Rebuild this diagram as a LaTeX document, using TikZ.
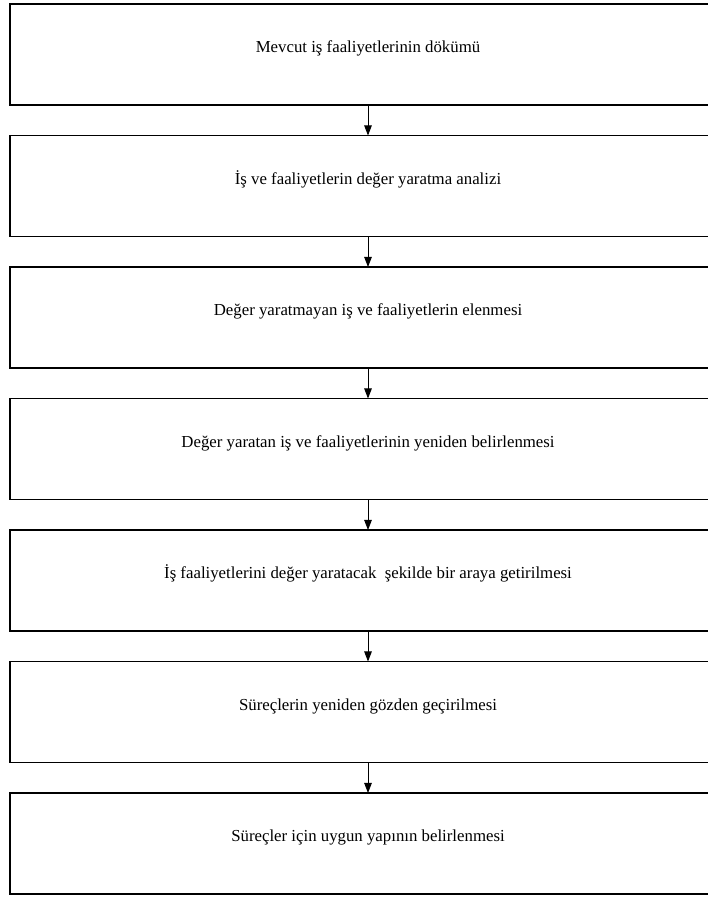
\documentclass[tikz,border=0pt]{standalone}
\usepackage{fontspec}
\setmainfont{Liberation Serif}
\usetikzlibrary{positioning,arrows.meta}

\begin{document}
\begin{tikzpicture}[x=1pt,y=1pt,node distance=30.5pt,
    every node/.style={draw,line width=1.1pt,minimum width=716pt,minimum height=101pt,
      inner sep=0,outer sep=0,text height=12pt,text depth=15pt,font=\fontsize{16.8}{20}\selectfont},
    flowarrow/.style={-{Triangle[width=7.5pt,length=10pt]},line width=0.9pt}]
        \useasboundingbox (0,0) rectangle (708,900);
        \node (s1) at (368,845.5) {Mevcut iş faaliyetlerinin dökümü};
        \node[below=of s1] (s2) {İş ve faaliyetlerin değer yaratma analizi};
        \node[below=of s2] (s3) {Değer yaratmayan iş ve faaliyetlerin elenmesi};
        \node[below=of s3] (s4) {Değer yaratan iş ve faaliyetlerinin yeniden belirlenmesi};
        \node[below=of s4] (s5) {İş faaliyetlerini değer yaratacak\ \ şekilde bir araya getirilmesi};
        \node[below=of s5] (s6) {Süreçlerin yeniden gözden geçirilmesi};
        \node[below=of s6] (s7) {Süreçler için uygun yapının belirlenmesi};
        \draw[flowarrow] (s1) -- (s2);
        \draw[flowarrow] (s2) -- (s3);
        \draw[flowarrow] (s3) -- (s4);
        \draw[flowarrow] (s4) -- (s5);
        \draw[flowarrow] (s5) -- (s6);
        \draw[flowarrow] (s6) -- (s7);
      \end{tikzpicture}
\end{document}
